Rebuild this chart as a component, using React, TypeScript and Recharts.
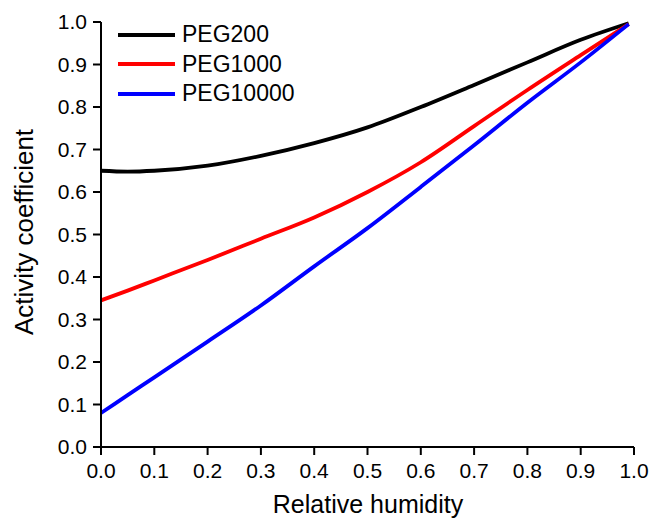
import { Label, Legend, Line, LineChart, XAxis, YAxis } from "recharts";

const humidity = [0, 0.05, 0.1, 0.2, 0.3, 0.4, 0.5, 0.6, 0.7, 0.8, 0.9, 0.99];
const peg200 = [0.65, 0.648, 0.65, 0.662, 0.685, 0.715, 0.752, 0.8, 0.852, 0.905, 0.958, 0.997];
const peg1000 = [0.345, 0.368, 0.392, 0.44, 0.49, 0.54, 0.6, 0.67, 0.755, 0.84, 0.922, 0.995];
const peg10000 = [0.08, 0.122, 0.164, 0.248, 0.333, 0.425, 0.515, 0.612, 0.71, 0.81, 0.905, 0.995];
const axisTicks = [0, 0.1, 0.2, 0.3, 0.4, 0.5, 0.6, 0.7, 0.8, 0.9, 1.0];

const seriesList = [
  { key: "peg200", name: "PEG200", color: "#000000" },
  { key: "peg1000", name: "PEG1000", color: "#ff0000" },
  { key: "peg10000", name: "PEG10000", color: "#0000ff" },
];

const data = humidity.map((x, i) => ({
  x,
  peg200: peg200[i],
  peg1000: peg1000[i],
  peg10000: peg10000[i],
}));

const font = '"Liberation Sans", Arial, sans-serif';

function LegendBox() {
  return (
    <div style={{ fontFamily: font, fontSize: 23, color: "#000" }}>
      {seriesList.map((s) => (
        <div key={s.key} style={{ display: "flex", alignItems: "center", height: 29.5, lineHeight: "29.5px" }}>
          <svg width={57} height={6} style={{ marginRight: 7 }}>
            <line x1={0} y1={3} x2={57} y2={3} stroke={s.color} strokeWidth={4} />
          </svg>
          <span>{s.name}</span>
        </div>
      ))}
    </div>
  );
}

export default function App() {
  const tickStyle = { fontSize: 21, fill: "#000", fontFamily: font };
  return (
    <div style={{ position: "absolute", left: 0, top: 0, background: "#fff" }}>
      <LineChart width={650} height={520} data={data} margin={{ top: 22, right: 16, bottom: 0, left: 0 }}>
        <XAxis
          dataKey="x"
          type="number"
          domain={[0, 1]}
          ticks={axisTicks}
          tickFormatter={(v: number) => v.toFixed(1)}
          height={73}
          tick={tickStyle}
          tickSize={8}
          tickMargin={8}
          axisLine={{ stroke: "#000", strokeWidth: 2 }}
          tickLine={{ stroke: "#000", strokeWidth: 2 }}
        >
          <Label
            content={() => (
              <text x={368} y={513} textAnchor="middle" fontSize={25} fontFamily={font} fill="#000">
                Relative humidity
              </text>
            )}
          />
        </XAxis>
        <YAxis
          type="number"
          domain={[0, 1]}
          ticks={axisTicks}
          tickFormatter={(v: number) => v.toFixed(1)}
          width={101}
          tick={tickStyle}
          tickSize={8}
          tickMargin={6}
          axisLine={{ stroke: "#000", strokeWidth: 2 }}
          tickLine={{ stroke: "#000", strokeWidth: 2 }}
        >
          <Label
            content={() => (
              <text
                x={33}
                y={232}
                textAnchor="middle"
                fontSize={26}
                fontFamily={font}
                fill="#000"
                transform="rotate(-90, 33, 232)"
              >
                Activity coefficient
              </text>
            )}
          />
        </YAxis>
        <Legend
          layout="vertical"
          align="center"
          verticalAlign="middle"
          content={() => <LegendBox />}
          wrapperStyle={{ left: 118, top: 20, width: "auto" }}
        />
        {seriesList.map((s) => (
          <Line
            key={s.key}
            type="monotone"
            dataKey={s.key}
            name={s.name}
            stroke={s.color}
            strokeWidth={3.8}
            dot={false}
            isAnimationActive={false}
          />
        ))}
      </LineChart>
    </div>
  );
}
